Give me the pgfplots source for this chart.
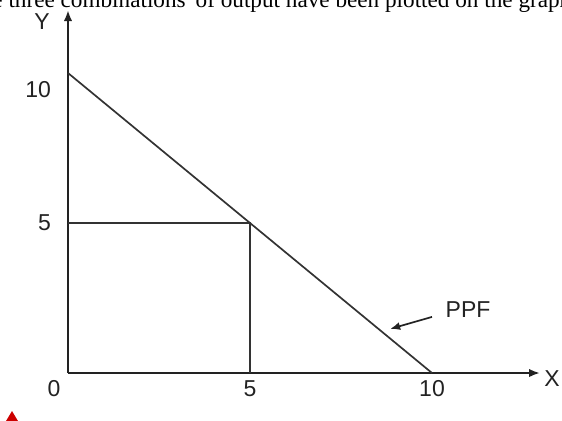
\documentclass[border=0pt]{standalone}
\usepackage{pgfplots}
\pgfplotsset{compat=1.18}
\usetikzlibrary{arrows.meta}
\usepackage{fontspec}
\setmainfont{Liberation Sans}
\newfontfamily\serif{Liberation Serif}
\definecolor{ink}{HTML}{222222}
\definecolor{lineink}{HTML}{333333}

\begin{document}
\begin{tikzpicture}
% picture frame: 562 x 420 px at 0.5pt per px, origin top left
\useasboundingbox (0,0) rectangle (281pt,-210pt);
\clip (0,0) rectangle (281pt,-210pt);
% clipped line of running text above the figure
\node[anchor=base west, inner sep=0pt, font=\serif\fontsize{11.6}{13}\selectfont]
  at (-4pt,-3.6pt) {e three combinations' of output have been plotted on the graph};
\fill[red!80!black] (6pt,-205.5pt) -- (3pt,-210.5pt) -- (9pt,-210.5pt) -- cycle;

\begin{axis}[
  at={(34pt,-186.5pt)}, anchor=origin,
  x=18.2pt, y=15pt,
  xmin=0, xmax=12.97, ymin=0, ymax=12.1,
  axis lines=left,
  axis line style={ink, line width=1.15pt, -{Latex[length=5.5pt,width=4.2pt]}},
  xtick={5,10}, ytick={5},
  extra y ticks={10},
  extra y tick style={yticklabel style={yshift=-8.5pt}},
  major tick length=0pt,
  tick label style={font=\fontsize{11.5}{13}\selectfont, text=ink},
  xticklabel style={yshift=-0.3pt},
  yticklabel style={xshift=-5pt},
  /pgf/number format/assume math mode=true,
  clip=false,
]
\addplot[lineink, line width=0.85pt] coordinates {(0,10) (10,0)};
\addplot[lineink, line width=0.85pt] coordinates {(0,5) (5,5) (5,0)};

\node[font=\fontsize{11.5}{13}\selectfont, text=ink] at (axis cs:0,0) [xshift=-7pt, yshift=-8pt] {0};
\node[font=\fontsize{11.5}{13}\selectfont, text=ink] at (axis cs:13.3,-0.17) {X};
\node[font=\fontsize{11.5}{13}\selectfont, text=ink] at (axis cs:-0.71,11.73) {Y};
\node[font=\fontsize{11.5}{13}\selectfont, text=ink] at (axis cs:10.99,2.1) {PPF};
\draw[ink, line width=0.85pt, -{Latex[length=5pt,width=4pt]}] (axis cs:10.0,1.87) -- (axis cs:8.85,1.47);
\end{axis}
\end{tikzpicture}
\end{document}
